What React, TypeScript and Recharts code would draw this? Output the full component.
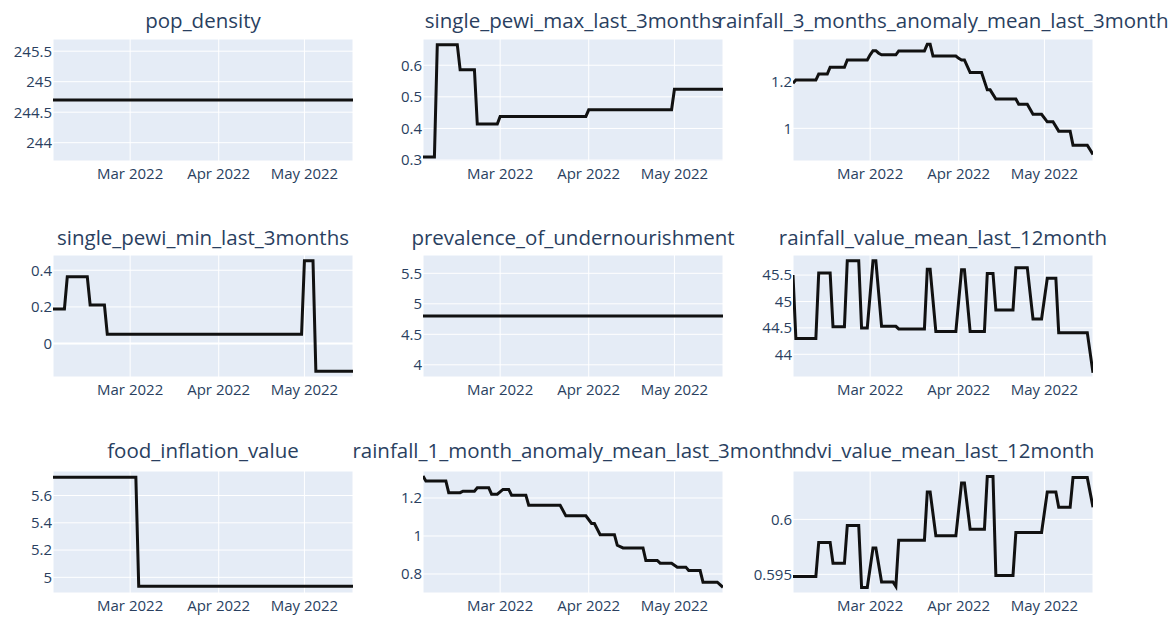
import { LineChart, Line, XAxis, YAxis, CartesianGrid, ReferenceLine } from 'recharts';

type Pt = [string, number];

// x axis
const xRange = ['2022-02-02', '2022-05-18'];
const monthTicks = ['2022-03-01', '2022-04-01', '2022-05-01'];
const monthLabels = ['Mar 2022', 'Apr 2022', 'May 2022'];

// series (only the points where the value changes)
const popDensity: Pt[] = [
  ['2022-02-02', 244.7], ['2022-05-18', 244.7],
];

const pewiMax: Pt[] = [
  ['2022-02-02', 0.31], ['2022-02-06', 0.31], ['2022-02-07', 0.665], ['2022-02-14', 0.665],
  ['2022-02-15', 0.586], ['2022-02-20', 0.586], ['2022-02-21', 0.414], ['2022-02-28', 0.414],
  ['2022-03-01', 0.438], ['2022-03-31', 0.438], ['2022-04-01', 0.459], ['2022-04-30', 0.459],
  ['2022-05-01', 0.524], ['2022-05-18', 0.524],
];

const rain3mAnomaly: Pt[] = [
  ['2022-02-02', 1.193], ['2022-02-03', 1.207], ['2022-02-10', 1.207], ['2022-02-11', 1.233],
  ['2022-02-14', 1.233], ['2022-02-15', 1.262], ['2022-02-20', 1.262], ['2022-02-21', 1.293],
  ['2022-02-28', 1.293], ['2022-03-01', 1.315], ['2022-03-02', 1.333], ['2022-03-03', 1.333],
  ['2022-03-04', 1.322], ['2022-03-05', 1.315], ['2022-03-10', 1.315], ['2022-03-11', 1.332],
  ['2022-03-20', 1.332], ['2022-03-21', 1.36], ['2022-03-22', 1.36], ['2022-03-23', 1.31],
  ['2022-03-31', 1.31], ['2022-04-01', 1.3], ['2022-04-02', 1.293], ['2022-04-03', 1.293],
  ['2022-04-05', 1.239], ['2022-04-09', 1.239], ['2022-04-11', 1.165], ['2022-04-12', 1.165],
  ['2022-04-14', 1.126], ['2022-04-21', 1.126], ['2022-04-22', 1.103], ['2022-04-25', 1.103],
  ['2022-04-27', 1.06], ['2022-04-30', 1.06], ['2022-05-02', 1.028], ['2022-05-04', 1.028],
  ['2022-05-06', 0.988], ['2022-05-10', 0.988], ['2022-05-11', 0.928], ['2022-05-16', 0.928],
  ['2022-05-18', 0.888],
];

const pewiMin: Pt[] = [
  ['2022-02-02', 0.189], ['2022-02-06', 0.189], ['2022-02-07', 0.364], ['2022-02-14', 0.364],
  ['2022-02-15', 0.211], ['2022-02-20', 0.211], ['2022-02-21', 0.051], ['2022-04-30', 0.051],
  ['2022-05-01', 0.451], ['2022-05-04', 0.451], ['2022-05-05', -0.15], ['2022-05-18', -0.15],
];

const undernourishment: Pt[] = [
  ['2022-02-02', 4.8], ['2022-05-18', 4.8],
];

const rain12m: Pt[] = [
  ['2022-02-02', 45.5], ['2022-02-03', 44.3], ['2022-02-10', 44.3], ['2022-02-11', 45.54],
  ['2022-02-15', 45.54], ['2022-02-16', 44.52], ['2022-02-20', 44.52], ['2022-02-21', 45.77],
  ['2022-02-25', 45.77], ['2022-02-26', 44.5], ['2022-02-28', 44.5], ['2022-03-02', 45.77],
  ['2022-03-03', 45.77], ['2022-03-05', 44.53], ['2022-03-10', 44.53], ['2022-03-11', 44.48],
  ['2022-03-20', 44.48], ['2022-03-21', 45.61], ['2022-03-22', 45.61], ['2022-03-24', 44.43],
  ['2022-03-31', 44.43], ['2022-04-02', 45.6], ['2022-04-03', 45.6], ['2022-04-05', 44.43],
  ['2022-04-10', 44.43], ['2022-04-11', 45.53], ['2022-04-13', 45.53], ['2022-04-14', 44.84],
  ['2022-04-20', 44.84], ['2022-04-21', 45.64], ['2022-04-25', 45.64], ['2022-04-27', 44.67],
  ['2022-04-30', 44.67], ['2022-05-02', 45.44], ['2022-05-05', 45.44], ['2022-05-06', 44.41],
  ['2022-05-16', 44.41], ['2022-05-18', 43.65],
];

const foodInflation: Pt[] = [
  ['2022-02-02', 5.735], ['2022-03-03', 5.735], ['2022-03-04', 4.934], ['2022-05-18', 4.934],
];

const rain1mAnomaly: Pt[] = [
  ['2022-02-02', 1.316], ['2022-02-03', 1.29], ['2022-02-10', 1.29], ['2022-02-11', 1.228],
  ['2022-02-15', 1.228], ['2022-02-16', 1.236], ['2022-02-20', 1.236], ['2022-02-21', 1.254],
  ['2022-02-25', 1.254], ['2022-02-26', 1.22], ['2022-02-28', 1.22], ['2022-03-02', 1.245],
  ['2022-03-04', 1.245], ['2022-03-05', 1.215], ['2022-03-10', 1.215], ['2022-03-11', 1.162],
  ['2022-03-22', 1.162], ['2022-03-24', 1.106], ['2022-03-31', 1.106], ['2022-04-02', 1.066],
  ['2022-04-03', 1.066], ['2022-04-05', 1.007], ['2022-04-10', 1.007], ['2022-04-11', 0.951],
  ['2022-04-13', 0.937], ['2022-04-20', 0.937], ['2022-04-21', 0.871], ['2022-04-25', 0.871],
  ['2022-04-26', 0.857], ['2022-04-30', 0.857], ['2022-05-02', 0.836], ['2022-05-05', 0.836],
  ['2022-05-06', 0.818], ['2022-05-10', 0.818], ['2022-05-11', 0.757], ['2022-05-16', 0.757],
  ['2022-05-18', 0.73],
];

const ndvi12m: Pt[] = [
  ['2022-02-02', 0.5948], ['2022-02-10', 0.5948], ['2022-02-11', 0.5979], ['2022-02-15', 0.5979],
  ['2022-02-16', 0.596], ['2022-02-20', 0.596], ['2022-02-21', 0.59945], ['2022-02-25', 0.59945],
  ['2022-02-26', 0.5938], ['2022-02-28', 0.5938], ['2022-03-02', 0.5974], ['2022-03-03', 0.5974],
  ['2022-03-05', 0.5943], ['2022-03-09', 0.5943], ['2022-03-10', 0.5939], ['2022-03-11', 0.5981],
  ['2022-03-20', 0.5981], ['2022-03-21', 0.6025], ['2022-03-22', 0.6025], ['2022-03-24', 0.5985],
  ['2022-03-31', 0.5985], ['2022-04-02', 0.6033], ['2022-04-03', 0.6033], ['2022-04-05', 0.5991],
  ['2022-04-10', 0.5991], ['2022-04-11', 0.6039], ['2022-04-13', 0.6039], ['2022-04-14', 0.5949],
  ['2022-04-20', 0.5949], ['2022-04-21', 0.5988], ['2022-04-30', 0.5988], ['2022-05-02', 0.6025],
  ['2022-05-05', 0.6025], ['2022-05-06', 0.6011], ['2022-05-10', 0.6011], ['2022-05-11', 0.6038],
  ['2022-05-16', 0.6038], ['2022-05-18', 0.6011],
];

const panels = [
  { title: 'pop_density', data: popDensity, domain: [243.7, 245.7], ticks: [244, 244.5, 245, 245.5] },
  { title: 'single_pewi_max_last_3months', data: pewiMax, domain: [0.297, 0.683], ticks: [0.3, 0.4, 0.5, 0.6] },
  { title: 'rainfall_3_months_anomaly_mean_last_3month', data: rain3mAnomaly, domain: [0.86, 1.383], ticks: [1, 1.2] },
  { title: 'single_pewi_min_last_3months', data: pewiMin, domain: [-0.182, 0.483], ticks: [0, 0.2, 0.4] },
  { title: 'prevalence_of_undernourishment', data: undernourishment, domain: [3.8, 5.8], ticks: [4, 4.5, 5, 5.5] },
  { title: 'rainfall_value_mean_last_12month', data: rain12m, domain: [43.57, 45.88], ticks: [44, 44.5, 45, 45.5] },
  { title: 'food_inflation_value', data: foodInflation, domain: [4.885, 5.78], ticks: [5, 5.2, 5.4, 5.6] },
  { title: 'rainfall_1_month_anomaly_mean_last_3month', data: rain1mAnomaly, domain: [0.7, 1.342], ticks: [0.8, 1, 1.2] },
  { title: 'ndvi_value_mean_last_12month', data: ndvi12m, domain: [0.5933, 0.6044], ticks: [0.595, 0.6] },
];

const toTs = (d: string) => Date.parse(d + 'T00:00:00Z');
const monthTs = monthTicks.map(toTs);
const fmtMonth = (t: number) => monthLabels[monthTs.indexOf(t)] ?? '';

const TEXT = '#2a3f5f';
const FONT = '"Open Sans", sans-serif';
const titleY = [20, 237, 450];

function Panel({ p, col, row }: { p: typeof panels[number]; col: number; row: number }) {
  const data = p.data.map(([d, v]) => ({ t: toTs(d), v }));
  return (
    <>
      <div
        style={{
          position: 'absolute',
          left: col * 370 + 53 + 150 - 300,
          top: titleY[row] - 14,
          width: 600,
          height: 28,
          lineHeight: '28px',
          textAlign: 'center',
          fontSize: 20.5,
          color: TEXT,
          whiteSpace: 'nowrap',
          pointerEvents: 'none',
          zIndex: 2,
        }}
      >
        {p.title}
      </div>
      <div style={{ position: 'absolute', left: col * 370, top: row * 216 }}>
        <LineChart width={370} height={216} data={data} margin={{ top: 39, right: 17, bottom: 25, left: 3 }}>
          <CartesianGrid fill="#E5ECF6" stroke="#fff" strokeWidth={1} />
          <XAxis
            dataKey="t"
            type="number"
            domain={[toTs(xRange[0]), toTs(xRange[1])]}
            ticks={monthTs}
            tickFormatter={fmtMonth}
            allowDataOverflow
            axisLine={false}
            tickLine={false}
            tickSize={0}
            tickMargin={7}
            height={30}
            tick={{ fill: TEXT, fontSize: 15, fontFamily: FONT }}
          />
          <YAxis
            type="number"
            domain={p.domain}
            ticks={p.ticks}
            allowDataOverflow
            axisLine={false}
            tickLine={false}
            tickSize={0}
            tickMargin={1}
            width={50}
            tick={{ fill: TEXT, fontSize: 15, fontFamily: FONT }}
          />
          {p.domain[0] < 0 && <ReferenceLine y={0} stroke="#fff" strokeWidth={2} />}
          <Line type="linear" dataKey="v" stroke="#111" strokeWidth={3} dot={false} isAnimationActive={false} />
        </LineChart>
      </div>
    </>
  );
}

export default function App() {
  return (
    <div style={{ position: 'absolute', left: 0, top: 0, width: 1171, height: 618, background: '#fff', fontFamily: FONT, overflow: 'hidden' }}>
      {panels.map((p, i) => (
        <Panel key={p.title} p={p} col={i % 3} row={Math.floor(i / 3)} />
      ))}
    </div>
  );
}
